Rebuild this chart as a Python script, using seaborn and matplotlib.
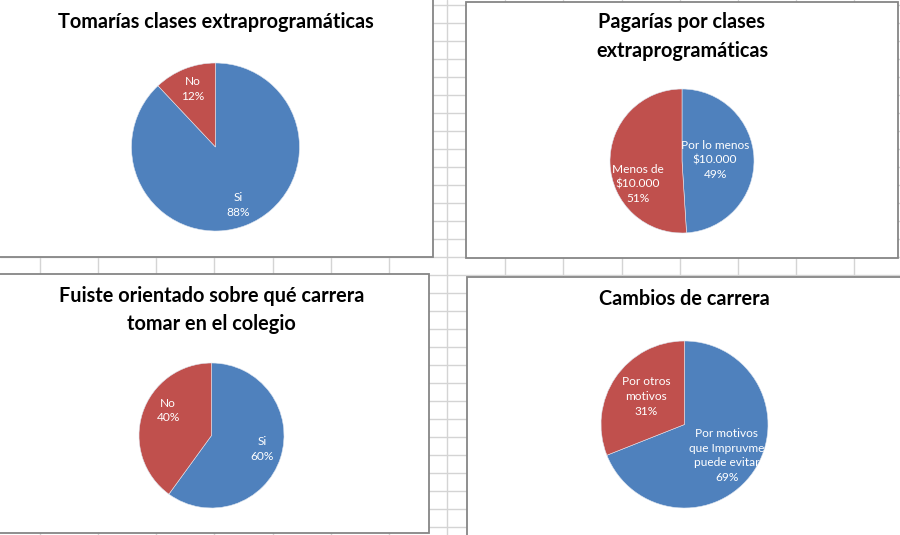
import numpy as np
import matplotlib
matplotlib.use("Agg")
import matplotlib.pyplot as plt
from matplotlib.patches import Rectangle
import seaborn as sns

# --------------------------------------------------
# DATA
# --------------------------------------------------

titles = [
    "Tomarías clases extraprogramáticas",
    "Pagarías por clases\nextraprogramáticas",
    "Fuiste orientado sobre qué carrera\ntomar en el colegio",
    "Cambios de carrera",
]

labels_1 = ["Si", "No"]
values_1 = [88, 12]

labels_2 = ["Por lo menos\n$10.000", "Menos de\n$10.000"]
values_2 = [49, 51]

labels_3 = ["Si", "No"]
values_3 = [60, 40]

labels_4 = ["Por motivos\nque Impruvme\npuede evitar", "Por otros\nmotivos"]
values_4 = [69, 31]

colors = ["#4F81BD", "#C0504D"]

# --------------------------------------------------
# LAYOUT (pixels, origin top-left)
# --------------------------------------------------

W, H = 900, 535

# chart boxes: x0, y0, x1, y1
boxes = [(-3, -3, 433, 257), (466, 2, 898, 258),
         (-3, 274, 429, 533), (467, 277, 903, 538)]
# pie centre x, centre y, radius
pies = [(215.5, 147, 84), (682, 161, 72),
        (211.5, 435.5, 72.5), (684.5, 424.5, 83.5)]
# title centre x, centre y
title_pos = [(215.5, 22), (682, 36.5), (211.5, 310), (684.5, 299)]
# label placement: (radius fraction, angle shift in degrees)
label_place = [
    [(0.74, 0), (0.74, 0)],
    [(0.46, 0), (0.69, 26)],
    [(0.72, 3), (0.69, -12)],
    [(0.63, -2), (0.57, -2)],
]

sns.set_theme(style="white")
plt.rcParams['font.family'] = ['Lato', 'DejaVu Sans']

fig = plt.figure(figsize=(W / 100, H / 100), dpi=100)

# Excel style sheet grid in the background
bg = fig.add_axes([0, 0, 1, 1])
bg.set_xlim(0, W)
bg.set_ylim(H, 0)
bg.set_xticks(np.arange(40, W, 58.15))
bg.set_yticks(np.arange(5, H, 18.0))
bg.grid(True, color="#d4d4d4", linewidth=1)
bg.tick_params(length=0, labelbottom=False, labelleft=False)
for s in bg.spines.values():
    s.set_visible(False)

for (x0, y0, x1, y1) in boxes:
    bg.add_patch(Rectangle((x0, y0), x1 - x0, y1 - y0,
                           facecolor="white", edgecolor="#868686",
                           linewidth=1.3, zorder=3))

all_labels = [labels_1, labels_2, labels_3, labels_4]
all_values = [values_1, values_2, values_3, values_4]

for i in range(4):
    cx, cy, r = pies[i]
    ax = fig.add_axes([(cx - r) / W, 1 - (cy + r) / H, 2 * r / W, 2 * r / H])
    wedges, _ = ax.pie(all_values[i], colors=colors, startangle=90,
                       counterclock=False, radius=1,
                       wedgeprops=dict(edgecolor="#dfe6f0", linewidth=0.4))
    ax.set_xlim(-1, 1)
    ax.set_ylim(-1, 1)
    ax.set_aspect("equal")
    ax.axis("off")

    total = sum(all_values[i])
    for j, w in enumerate(wedges):
        dist, shift = label_place[i][j]
        ang = np.deg2rad((w.theta1 + w.theta2) / 2 + shift)
        pct = round(100 * all_values[i][j] / total)
        ax.text(dist * np.cos(ang), dist * np.sin(ang),
                f"{all_labels[i][j]}\n{pct}%",
                ha="center", va="center", color="white",
                fontsize=8.6, linespacing=1.42)

    tx, ty = title_pos[i]
    fig.text(tx / W, 1 - ty / H, titles[i], ha="center", va="center",
             fontsize=14.3, fontweight="bold", color="black",
             linespacing=1.55)

plt.savefig("out.png", dpi=100)
